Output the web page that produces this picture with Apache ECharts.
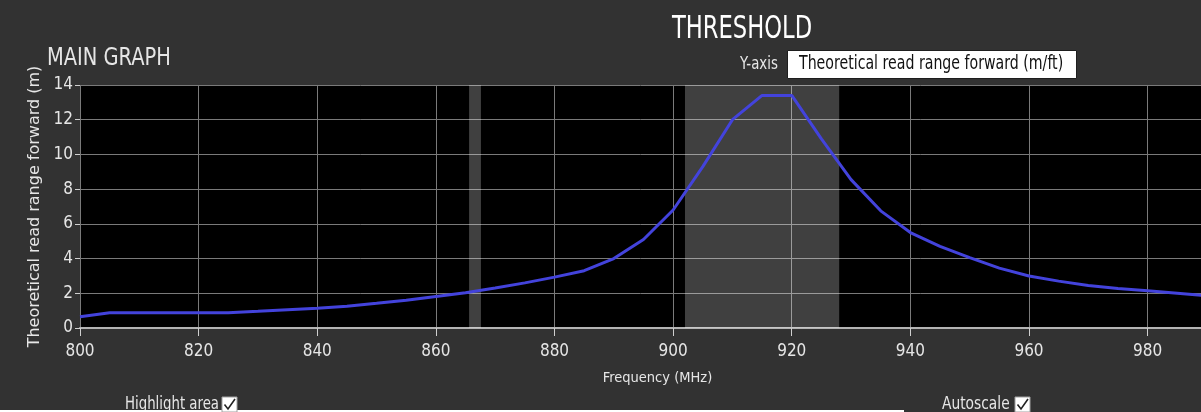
<!DOCTYPE html>
<html>
<head>
<meta charset="utf-8">
<script src="https://cdn.jsdelivr.net/npm/echarts@6/dist/echarts.min.js"></script>
<style>
html,body{margin:0;padding:0;background:#323232;}
#chart{width:1201px;height:412px;}
</style>
</head>
<body>
<div id="chart"></div>
<script>
var freqs = [800,805,810,815,820,825,830,835,840,845,850,855,860,865,870,875,880,885,890,895,900,905,910,915,920,925,930,935,940,945,950,955,960,965,970,975,980,985,990];
var readRange = [0.65,0.88,0.88,0.88,0.88,0.88,0.96,1.05,1.14,1.25,1.42,1.6,1.82,2.03,2.3,2.6,2.93,3.3,4.0,5.1,6.8,9.3,12.0,13.4,13.4,10.9,8.55,6.75,5.5,4.7,4.05,3.45,3.0,2.7,2.45,2.28,2.15,2.0,1.85];
var highlightBands = [[865.6,867.6],[902,928]];
var xTicks = [800,820,840,860,880,900,920,940,960,980];
var yTicks = [0,2,4,6,8,10,12,14];

var NARROW = "'DejaVu Sans Condensed',sans-serif";
var WIDE = "'DejaVu Sans',sans-serif";
var chart = echarts.init(document.getElementById('chart'));
var pts = freqs.map(function(f,i){return [f, readRange[i]];});

function checkbox(x, y){
  return [
    {type:'rect', shape:{x:x, y:y, width:15, height:15}, style:{fill:'#ffffff', stroke:'#a0a0a0', lineWidth:1}},
    {type:'polyline', shape:{points:[[x+2.5,y+7.5],[x+6,y+12],[x+13,y+2]]}, style:{stroke:'#222', lineWidth:1.6, fill:null}}
  ];
}
function label(txt, x, y, size, sx, color){
  return {type:'text', x:x, y:y, scaleX:sx, style:{text:txt, fill:color, font:size+'px '+NARROW}};
}

var graphics = [
  label('THRESHOLD', 672, 14, 32, 0.786, '#ffffff'),
  label('MAIN GRAPH', 47, 47, 24, 0.9, '#e6e6e6'),
  label('Y-axis', 740, 55, 17.5, 0.845, '#e6e6e6'),
  {type:'rect', shape:{x:787.5, y:50.5, width:289, height:28}, style:{fill:'#ffffff', stroke:'#1e1e1e', lineWidth:1}},
  label('Theoretical read range forward (m/ft)', 799, 54, 19.5, 0.807, '#111111'),
  label('Highlight area', 125, 395, 18.5, 0.8, '#e6e6e6'),
  label('Autoscale', 942, 395, 18.5, 0.83, '#e6e6e6'),
  {type:'rect', shape:{x:0, y:410, width:904, height:2}, style:{fill:'#ffffff'}}
].concat(checkbox(222,397)).concat(checkbox(1015,397));

chart.setOption({
  backgroundColor:'#323232',
  animation:false,
  grid:{left:80, right:0, top:85, bottom:84, show:true, backgroundColor:'#000000', borderWidth:0},
  xAxis:{
    type:'value', min:800, max:989, interval:20,
    name:'Frequency (MHz)', nameLocation:'middle', nameGap:43,
    nameTextStyle:{color:'#e6e6e6', fontSize:14.5, fontFamily:NARROW, padding:[0,0,0,34]},
    axisLine:{show:true, lineStyle:{color:'#b4b4b4', width:2}},
    axisTick:{show:true, length:8, lineStyle:{color:'#d0d0d0', width:1}},
    axisLabel:{color:'#e6e6e6', fontSize:17, fontFamily:NARROW, margin:15, showMaxLabel:false,
      formatter:function(v){return xTicks.indexOf(v)>=0 ? String(v) : '';}},
    splitLine:{show:true, lineStyle:{color:'#7a7a7a', width:1}}
  },
  yAxis:{
    type:'value', min:0, max:14, interval:2,
    name:'Theoretical read range forward (m)', nameLocation:'middle', nameGap:37,
    nameTextStyle:{color:'#e6e6e6', fontSize:16, fontFamily:WIDE},
    axisLine:{show:false},
    axisTick:{show:true, length:5, lineStyle:{color:'#d0d0d0', width:1}},
    axisLabel:{color:'#e6e6e6', fontSize:17, fontFamily:NARROW, margin:7,
      formatter:function(v){return yTicks.indexOf(v)>=0 ? String(v) : '';}},
    splitLine:{show:true, lineStyle:{color:'#7a7a7a', width:1}}
  },
  series:[{
    type:'line', data:pts, showSymbol:false, clip:true,
    lineStyle:{color:'#4343dc', width:3},
    markArea:{silent:true,
      itemStyle:{color:'rgba(255,255,255,0.25)'},
      data:highlightBands.map(function(b){return [{xAxis:b[0]},{xAxis:b[1]}];})
    },
    z:3
  }],
  graphic:graphics
});
</script>
</body>
</html>
